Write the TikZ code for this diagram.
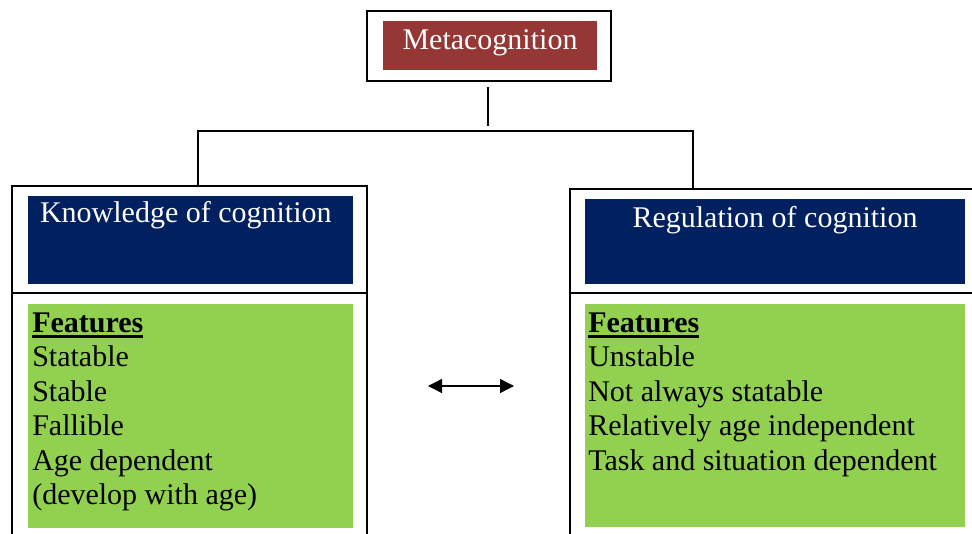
\documentclass[tikz,border=0pt]{standalone}
\usepackage{fontspec}
\setmainfont{Liberation Serif}
\usepackage{tikz}
\definecolor{metared}{HTML}{953735}
\definecolor{navy}{HTML}{002060}
\definecolor{featgreen}{HTML}{92D050}
\usetikzlibrary{arrows.meta}
\tikzstyle{frame}=[draw,line width=1pt,inner sep=0pt]
\tikzstyle{title}=[fill=navy,text=white,inner sep=0pt,
  font=\fontsize{22.5}{26}\selectfont]
\tikzstyle{feat}=[fill=featgreen,inner sep=0pt]
\tikzstyle{list}=[anchor=north west,inner sep=0pt,align=left,
  font=\fontsize{22.5}{25.8}\selectfont]
\newcommand{\ulhead}[1]{\setbox0\hbox{\bfseries #1}%
  \rlap{\rule[-3.9pt]{\wd0}{1.6pt}}\box0}

\begin{document}
\begin{tikzpicture}[x=0.75pt, y=-0.75pt, >={Triangle[length=10.5pt,width=10.5pt]}]
  \useasboundingbox (0,0) rectangle (972,534);
  \clip (0,0) rectangle (972,534);

  \node[frame, minimum width=183pt, minimum height=52.5pt] (metaframe) at (489,46) {};
  \node[title, fill=metared, minimum width=160.5pt, minimum height=36.75pt,
    text height=12pt, text depth=5.5pt] (meta) at (490,45.5) {Metacognition};

  \node[frame, minimum width=266.25pt, minimum height=80.25pt] (knowframe) at (189.5,239.5) {};
  \node[frame, minimum width=266.25pt, minimum height=207.75pt] (knowbody) at (189.5,431.5) {};
  \node[title, minimum width=243.75pt, minimum height=66pt,
    text height=12pt, text depth=38.5pt] (know) at (190.5,240)
    {Knowledge of cognition\hspace*{7pt}};
  \node[feat, minimum width=243.75pt, minimum height=168pt] (knowfeat) at (190.5,416) {};

  \node[frame, minimum width=322.5pt, minimum height=78pt] (regframe) at (785,241) {};
  \node[frame, minimum width=322.5pt, minimum height=207.75pt] (regbody) at (785,431.5) {};
  \node[title, minimum width=285pt, minimum height=63.75pt,
    text height=12pt, text depth=32.5pt] (reg) at (775,241.5) {Regulation of cognition};
  \node[feat, minimum width=285pt, minimum height=167.25pt] (regfeat) at (775,415.5) {};

  \node[list] (knowlist) at (32,312.5)
    {\ulhead{Features}\\Statable\\Stable\\Fallible\\Age dependent\\(develop with age)};
  \node[list] (reglist) at (588,312.5)
    {\ulhead{Features}\\Unstable\\Not always statable\\Relatively age independent\\Task and situation dependent};

  % tree lines
  \coordinate (stemtop) at (488,87);
  \coordinate (split) at (488,126);
  \coordinate (lefttop) at (198,131);
  \coordinate (righttop) at (693,131);
  \draw[line width=1pt] (stemtop) -- (split);
  \draw[line width=1pt] (knowframe.north -| lefttop) -- (lefttop) -- (righttop)
    -- (regframe.north -| righttop);

  \coordinate (arrowl) at (428,386);
  \coordinate (arrowr) at (514,386);
  \draw[<->, line width=1pt] (arrowl) -- (arrowr);
\end{tikzpicture}
\end{document}
